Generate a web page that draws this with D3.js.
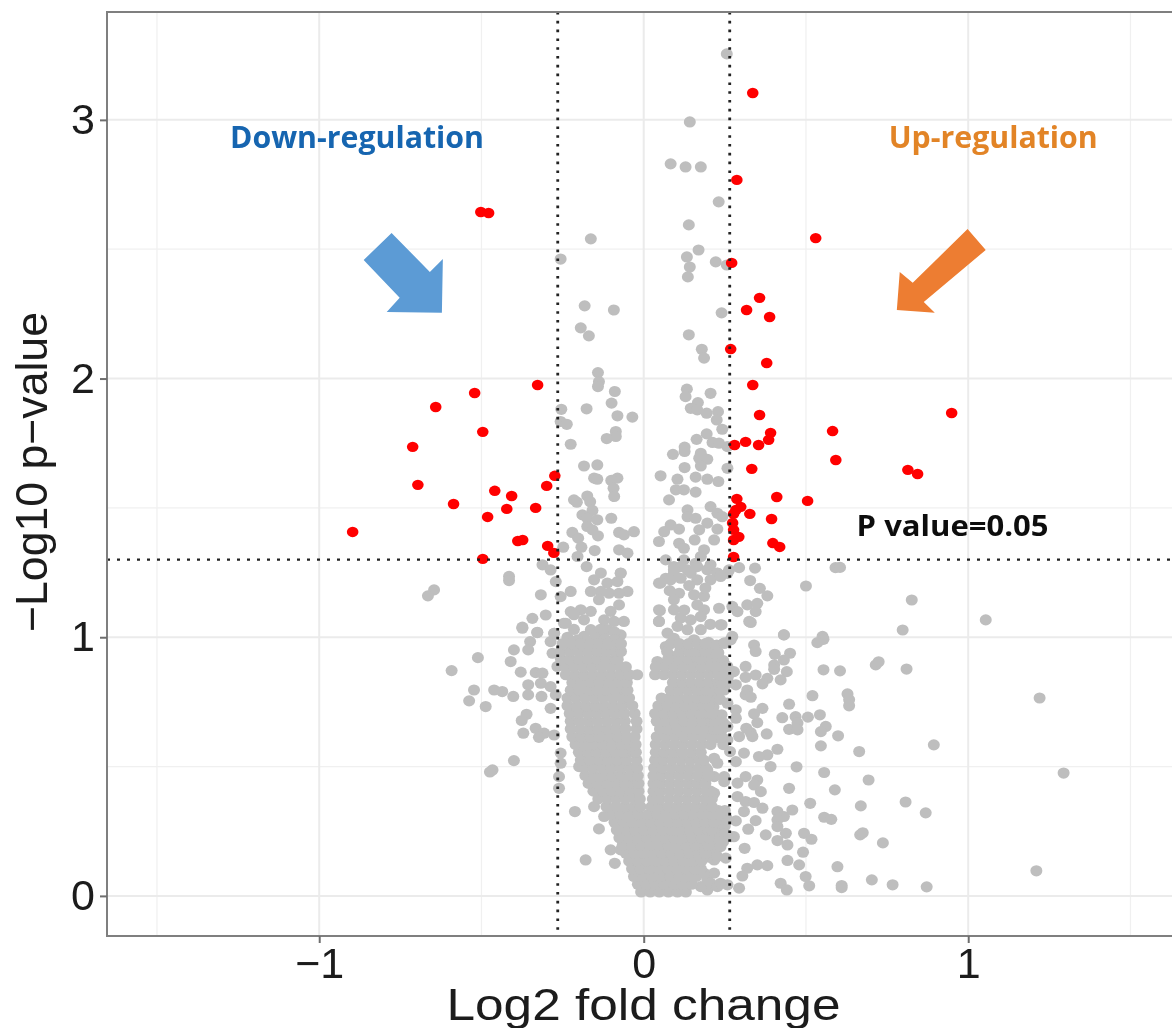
<!DOCTYPE html>
<html>
<head>
<meta charset="utf-8">
<script src="https://cdnjs.cloudflare.com/ajax/libs/d3/7.8.5/d3.min.js"></script>
<style>
  html, body { margin: 0; padding: 0; background: #fff; }
  svg { display: block; }
</style>
</head>
<body>
<div id="chart"></div>
<script>
// significant points, [log2fc, -log10p]
const redPoints = [
  [.336,3.104],[.287,2.768],[.53,2.543],[.271,2.447],[.357,2.312],[.317,2.265],[.388,2.238],[.268,2.114],
  [.379,2.06],[.336,1.975],[.357,1.859],[.949,1.867],[.391,1.79],[.385,1.763],[.354,1.743],[.314,1.755],
  [.28,1.743],[.582,1.797],[.592,1.685],[.333,1.651],[.814,1.647],[.844,1.631],[.41,1.542],[.505,1.527],
  [.287,1.535],[.299,1.504],[.284,1.492],[.277,1.477],[.327,1.477],[.394,1.457],[.274,1.442],[.277,1.415],
  [.293,1.388],[.277,1.376],[.398,1.364],[.419,1.349],[.277,1.31],
  [-.502,2.644],[-.478,2.64],[-.327,1.975],[-.521,1.944],[-.641,1.89],[-.496,1.794],[-.712,1.736],[-.696,1.589],
  [-.274,1.624],[-.299,1.585],[-.459,1.566],[-.407,1.546],[-.586,1.515],[-.422,1.496],[-.333,1.5],[-.481,1.465],
  [-.897,1.407],[-.388,1.372],[-.373,1.376],[-.296,1.353],[-.277,1.326],[-.496,1.303]
];

// grey points above the main mass
const grayTop = [
  [.256,3.255],[.142,2.992],[.083,2.83],[.129,2.818],[.176,2.818],[.231,2.683],[.139,2.594],[-.163,2.54],
  [.169,2.497],[.133,2.47],[-.256,2.462],[.222,2.451],[.256,2.439],[.142,2.431],[.136,2.393],[-.182,2.281],
  [-.092,2.265],[.24,2.254],[-.194,2.196],[-.169,2.165],[.139,2.169]
];

const grayLeftUpper = [
  [-.141,2.023],[-.138,1.988],[-.141,1.969],[-.089,1.95],[-.099,1.905],[-.176,1.883],[-.081,1.856],[-.035,1.851],
  [-.254,1.881],[-.256,1.834],[-.237,1.823],[-.086,1.795],[-.086,1.776],[-.114,1.768],[-.225,1.746],[-.184,1.662],
  [-.143,1.666],[-.153,1.615],[-.143,1.611],[-.081,1.615],[-.1,1.606],[-.093,1.576],[-.091,1.544],[-.215,1.531],
  [-.206,1.522],[-.174,1.546],[-.165,1.524],[-.158,1.49],[-.189,1.473],[-.174,1.46],[-.143,1.454],[-.1,1.46],
  [-.174,1.428],[-.158,1.415],[-.141,1.392],[-.076,1.405],[-.061,1.396],[-.03,1.408],[-.22,1.405],[-.202,1.383],
  [-.192,1.348],[-.248,1.348],[-.151,1.335],[-.076,1.338],[-.05,1.325],[-.204,1.312],[-.176,1.273],[-.312,1.28],
  [-.287,1.26],[-.071,1.247],[-.271,1.215],[-.415,1.235],[-.415,1.219],[-.646,1.183],[-.665,1.16],[-.317,1.164],
  [-.256,1.157],[-.225,1.177],[-.302,1.086],[-.343,1.073],[-.374,1.039],
  [-.328,1.018],[-.276,1.015],[-.246,1.054],[-.225,1.099]
];

// clusters just under the p=0.05 line, left lobe
const grayLeftFill = [
  [-.132,1.248],[-.153,1.222],[-.071,1.248],[-.112,1.209],[-.081,1.215],[-.132,1.177],[-.163,1.177],[-.107,1.17],
  [-.05,1.177],[-.076,1.17],[-.138,1.145],[-.076,1.125],[-.102,1.1],[-.194,1.106],[-.163,1.1],[-.215,1.087],
  [-.184,1.067],[-.122,1.067],[-.091,1.061],[-.061,1.061],[-.163,1.029],[-.112,1.029],[-.071,1.009],[-.184,1.003],
  [-.204,.99],[-.133,1.03],[-.09,1.02],[-.215,1.03],[-.235,1.0],[-.15,1.0],[-.12,.995],[-.09,.99]
];

const grayRightUpper = [
  [.179,2.113],[.186,2.079],[.133,1.959],[.129,1.93],[.206,1.943],[.167,1.907],[.145,1.885],[.165,1.879],
  [.194,1.866],[.229,1.872],[.225,1.84],[.242,1.804],[.194,1.786],[.163,1.765],[.212,1.753],[.232,1.75],
  [.258,1.737],[.126,1.735],[.126,1.718],[.09,1.707],[.176,1.711],[.171,1.692],[.196,1.688],[.176,1.662],
  [.126,1.656],[.258,1.653],[.052,1.624],[.104,1.611],[.16,1.619],[.196,1.611],[.23,1.602],[.099,1.57],
  [.124,1.57],[.16,1.561],[.078,1.531],[.135,1.492],[.135,1.466],[.206,1.505],[.227,1.479],[.16,1.46],
  [.242,1.466],[.196,1.441],[.083,1.434],[.109,1.418],[.063,1.408],[.171,1.415],[.227,1.418],[.047,1.37],
  [.109,1.363],[.157,1.376],[.217,1.376],[.124,1.344],[.186,1.338],[.176,1.312],[.068,1.299],[.124,1.299],
  [.16,1.286],[.093,1.273],[.206,1.28],[.294,1.269],[.343,1.267],[.263,1.26],[.135,1.26],[.093,1.247],
  [.227,1.247],[.258,1.247],[.068,1.228],[.047,1.209],[.328,1.219],
  [.358,1.189],[.381,1.16],[.5,1.198],[.591,1.269],[.605,1.27],
  [.05,1.103],[.273,1.119],[.319,1.125],[.35,1.131],[.289,1.099],[.345,1.099],[.325,1.061],[.047,1.061],[.432,1.009],
  [.551,1.003],[.273,1.003]
];

// clusters just under the p=0.05 line, right lobe
const grayRightFill = [
  [.052,1.209],[.083,1.222],[.114,1.228],[.145,1.248],[.196,1.261],[.227,1.248],[.165,1.222],[.206,1.222],
  [.237,1.235],[.109,1.17],[.093,1.145],[.155,1.164],[.186,1.158],[.093,1.106],[.165,1.125],[.186,1.106],
  [.114,1.074],[.145,1.067],[.176,1.08],[.104,1.042],[.073,1.016],[.135,1.029],[.176,1.029],[.093,.996],
  [.155,.99],[.068,.964],[.114,.958],[.176,.964],[.093,.925],[.145,.925],[.206,.919],[.042,.906],
  [.047,1.106],[.047,1.061],[.232,1.112],[.237,1.048],[.248,.977],[.165,1.273],[.114,1.273],[.093,1.261],
  [.14,1.2],[.19,1.19],[.08,1.18],[.125,1.105],[.205,1.05],[.2,.98],[.225,.95]
];

// right edge of the right lobe, up against the threshold line
const grayRightEdge = [
  [.23,.33],[.25,.33],[.235,.3],[.255,.3],[.225,.27],[.25,.27],[.225,.24],[.25,.24],
  [.22,.21],[.245,.21],[.2,.18],[.225,.18],[.2,.15],[.225,.7],[.24,.7],[.23,.67],
  [.245,.67],[.24,.64],[.22,.64],[.22,.61],[.215,.73],[.21,.76],[.235,.76],[.205,.79],
  [.255,.82],[.26,.85],[.235,.88],[.25,.88],[.2,.91],[.225,.91],[.245,.91],[.205,.94],
  [.23,.94],[.21,.97],[.225,.97]
];

// loose points on the flanks below y=1
const grayLeftFlank = [
  [-.592,.871],[-.511,.921],[-.41,.906],[-.374,1.035],[-.328,1.019],[-.35,.983],[-.4,.951],[-.356,.951],
  [-.379,.865],[-.333,.863],[-.312,.861],[-.356,.816],[-.317,.822],[-.287,.809],[-.523,.796],[-.461,.796],
  [-.436,.79],[-.402,.771],[-.538,.754],[-.487,.732],[-.356,.777],[-.315,.771],[-.271,.777],[-.287,.725],
  [-.361,.702],[-.376,.678],[-.333,.648],[-.307,.629],[-.323,.613],[-.371,.629],[-.276,.622],[-.281,.938],
  [-.287,.983],[-.276,1.015],[-.266,.887],[-.24,1.054],[-.4,.523],[-.466,.487],[-.474,.479],[-.256,.552],
  [-.256,.513],[-.261,.461],[-.261,.416],[-.199,.5],[-.212,.326],[-.138,.259],[-.102,.178],[-.179,.139],
  [-.089,.126],[-.153,.345],[-.122,.307],[-.071,.178]
];

const grayRightFlank = [
  [.432,1.009],[.554,.992],[.535,.979],[.33,1.057],[.24,1.048],[.34,.97],[.345,.945],[.404,.934],
  [.451,.938],[.432,.912],[.402,.893],[.402,.876],[.314,.887],[.278,.867],[.441,.867],[.554,.874],
  [.605,.87],[.422,.835],[.345,.854],[.314,.845],[.381,.841],[.366,.82],[.284,.816],[.319,.796],
  [.314,.777],[.33,.768],[.52,.774],[.448,.741],[.628,.781],[.633,.758],[.633,.735],[.366,.725],
  [.34,.704],[.284,.719],[.543,.7],[.506,.691],[.468,.693],[.427,.689],[.474,.668],[.35,.67],
  [.284,.687],[.448,.644],[.474,.642],[.561,.655],[.546,.635],[.316,.648],[.33,.631],[.335,.616],
  [.294,.616],[.379,.626],[.599,.619],[.546,.58],[.412,.567],[.381,.545],[.355,.539],[.309,.552],
  [.266,.558],[.284,.519],[.217,.532],[.391,.5],[.471,.499],[.664,.558],[.556,.477],[.314,.461],
  [.35,.448],[.34,.429],[.289,.436],[.248,.461],[.248,.442],[.361,.403],[.448,.416],[.589,.41],
  [.289,.384],[.314,.365],[.34,.361],[.309,.326],[.366,.339],[.513,.358],[.458,.332],[.412,.326],
  [.432,.307],[.556,.304],[.578,.296],[.669,.348],[.412,.294],[.412,.268],[.345,.291],[.284,.29],
  [.322,.258],[.438,.242],[.376,.236],[.494,.242],[.517,.219],[.667,.236],[.412,.214],[.443,.197],
  [.278,.229],[.491,.169],[.311,.184],[.443,.137],[.479,.12],[.381,.117],[.35,.12],[.319,.107],
  [.304,.077],[.597,.113],[.499,.075],[.422,.049],[.441,.023],[.51,.039],[.61,.04],[.61,.032],
  [.294,.03],[.258,.043],[.196,.023],[.217,.088],[.217,.139],[.227,.152],[.253,.146],[.268,.229],
  [.237,.191],[.258,.294],[.237,.32],[.217,.397],[.196,.487],[.217,.461],[.227,.513],[.258,.603],
  [.258,.655],[.258,.745],[.248,.796],[.258,.835],[.227,.938],[.248,.977],[.268,.99],[.258,.887],
  [.176,.036],[.196,.062],[.186,.088],[.206,.049],[.227,.036],[.237,.049]
];

const grayFarRight = [
  [1.22,.765],[1.054,1.067],[1.294,.475],[1.21,.097],[.894,.584],[.826,1.144],[.798,1.028],[.81,.877],
  [.715,.893],[.724,.905],[.807,.363],[.869,.321],[.767,.043],[.703,.062],[.872,.035],[.737,.205],
  [.693,.448],[.675,.244]
];

// the dense V, read row by row: [-log10p, log2fc values]
const grayMassRows = [
  [.015,[-.008,.02,.048,.076,.104,.13]],
  [.045,[-.018,.008,.036,.064,.092,.12,.148]],
  [.075,[-.03,-.002,.026,.054,.082,.11,.138,.162]],
  [.105,[-.036,-.01,.018,.046,.074,.102,.13,.158,.176]],
  [.135,[-.045,-.018,.01,.038,.066,.094,.122,.15,.178]],
  [.165,[-.055,-.028,0,.028,.056,.084,.112,.14,.168,.19]],
  [.195,[-.065,-.036,-.008,.02,.048,.076,.104,.132,.16,.188,.2]],
  [.225,[-.075,-.046,-.018,.01,.038,.066,.094,.122,.15,.178,.2]],
  [.255,[-.083,-.054,-.026,.002,.03,.058,.086,.114,.142,.17,.198,.21]],
  [.285,[-.09,-.062,-.034,-.006,.022,.05,.078,.106,.134,.162,.19,.218]],
  [.315,[-.1,-.072,-.044,-.016,.014,.042,.07,.098,.126,.154,.182,.21,.225]],
  [.345,[-.115,-.086,-.058,-.03,-.01,.024,.048,.076,.104,.132,.16,.188,.21]],
  [.375,[-.14,-.112,-.084,-.056,-.028,-.012,.028,.05,.078,.106,.134,.162,.19,.21]],
  [.405,[-.155,-.126,-.098,-.07,-.042,-.016,.03,.052,.08,.108,.136,.164,.192,.206]],
  [.435,[-.17,-.142,-.114,-.086,-.058,-.03,-.016,.03,.054,.082,.11,.138,.166,.19]],
  [.465,[-.18,-.152,-.124,-.096,-.068,-.04,-.018,.03,.054,.082,.11,.138,.166,.194,.2]],
  [.495,[-.185,-.156,-.128,-.1,-.072,-.044,-.02,.032,.058,.086,.114,.142,.17,.192]],
  [.525,[-.194,-.166,-.138,-.11,-.082,-.054,-.022,.035,.06,.088,.116,.144,.172,.185]],
  [.555,[-.2,-.172,-.144,-.116,-.088,-.06,-.032,-.024,.037,.064,.092,.12,.148,.176]],
  [.585,[-.21,-.182,-.154,-.126,-.098,-.07,-.042,-.025,.037,.066,.094,.122,.15,.178,.206,.245]],
  [.615,[-.22,-.192,-.164,-.136,-.108,-.08,-.052,-.028,.04,.068,.096,.124,.152,.18,.208,.24]],
  [.645,[-.225,-.196,-.168,-.14,-.112,-.084,-.056,-.022,.05,.076,.104,.132,.16,.188,.216,.23]],
  [.675,[-.225,-.198,-.17,-.142,-.114,-.086,-.058,-.022,.04,.068,.096,.124,.152,.18,.208,.22]],
  [.705,[-.228,-.2,-.172,-.144,-.116,-.088,-.06,-.028,.035,.062,.09,.118,.146,.174,.202,.21]],
  [.735,[-.235,-.206,-.178,-.15,-.122,-.094,-.066,-.035,.045,.072,.1,.128,.156,.184,.2]],
  [.765,[-.235,-.208,-.18,-.152,-.124,-.096,-.068,-.045,.055,.08,.108,.136,.164,.19]],
  [.795,[-.225,-.198,-.17,-.142,-.114,-.086,-.058,-.05,.083,.11,.138,.166,.194,.222,.235]],
  [.825,[-.22,-.192,-.164,-.136,-.108,-.08,-.052,.09,.118,.146,.174,.202,.23,.24]],
  [.855,[-.24,-.212,-.184,-.156,-.128,-.1,-.072,-.044,-.02,.035,.062,.09,.118,.146,.174,.202,.23,.24]],
  [.885,[-.24,-.214,-.186,-.158,-.13,-.102,-.074,-.055,.037,.066,.094,.122,.15,.178,.206,.22]],
  [.915,[-.255,-.228,-.2,-.172,-.144,-.116,-.088,-.08,.075,.11,.138,.166,.175]],
  [.945,[-.255,-.226,-.198,-.17,-.142,-.114,-.086,-.07,.072,.112,.14,.168,.19]],
  [.975,[-.25,-.222,-.194,-.166,-.138,-.11,-.082,-.07,.083,.11,.138,.166,.19]]
];

const grayMass = grayMassRows.flatMap(r => r[1].map(x => [x, r[0]]));
const grayPoints = [].concat(grayTop, grayLeftUpper, grayLeftFill, grayRightUpper, grayRightFill, grayRightEdge,
  grayLeftFlank, grayRightFlank, grayFarRight, grayMass);

const xTicks = [-1, 0, 1];
const yTicks = [0, 1, 2, 3];
const xMinorTicks = [-1.5, -.5, .5, 1.5];
const yMinorTicks = [.5, 1.5, 2.5];
const xThresholds = [-.265, .265];
const yThreshold = 1.3;

// arrows, in axis units
const downArrow = [[-.777,2.563],[-.659,2.412],[-.619,2.462],[-.622,2.254],[-.792,2.257],[-.752,2.312],[-.863,2.458]];
const upArrow = [[.998,2.578],[1.054,2.497],[.863,2.296],[.897,2.254],[.78,2.265],[.789,2.412],[.829,2.37]];

const width = 1172, height = 1028;
const margin = {top: 12, right: 0, bottom: 92, left: 107};

const svg = d3.select('#chart').append('svg').attr('width', width).attr('height', height);

// the reference is a soft, resampled image
svg.append('defs').append('filter').attr('id', 'soft')
  .attr('x', '-2%').attr('y', '-2%').attr('width', '104%').attr('height', '104%')
  .append('feGaussianBlur').attr('stdDeviation', .6);

const x = d3.scaleLinear().domain([-1.654, 1.628]).range([margin.left, width]);
const y = d3.scaleLinear().domain([-.155, 3.417]).range([height - margin.bottom, margin.top]);

const root = svg.append('g').attr('filter', 'url(#soft)');

// grid
const grid = root.append('g');
grid.selectAll('.vminor').data(xMinorTicks).enter().append('line')
  .attr('x1', d => x(d)).attr('x2', d => x(d)).attr('y1', y.range()[1]).attr('y2', y.range()[0])
  .attr('stroke', '#f0f0f0').attr('stroke-width', 1.2);
grid.selectAll('.hminor').data(yMinorTicks).enter().append('line')
  .attr('y1', d => y(d)).attr('y2', d => y(d)).attr('x1', x.range()[0]).attr('x2', x.range()[1])
  .attr('stroke', '#f0f0f0').attr('stroke-width', 1.2);
grid.selectAll('.vmajor').data(xTicks).enter().append('line')
  .attr('x1', d => x(d)).attr('x2', d => x(d)).attr('y1', y.range()[1]).attr('y2', y.range()[0])
  .attr('stroke', '#ebebeb').attr('stroke-width', 2);
grid.selectAll('.hmajor').data(yTicks).enter().append('line')
  .attr('y1', d => y(d)).attr('y2', d => y(d)).attr('x1', x.range()[0]).attr('x2', x.range()[1])
  .attr('stroke', '#ebebeb').attr('stroke-width', 2);

// points
root.append('g').selectAll('ellipse').data(grayPoints).enter().append('ellipse')
  .attr('cx', d => x(d[0])).attr('cy', d => y(d[1])).attr('rx', 6).attr('ry', 5.6)
  .attr('fill', '#bebebe');
root.append('g').selectAll('ellipse').data(redPoints).enter().append('ellipse')
  .attr('cx', d => x(d[0])).attr('cy', d => y(d[1])).attr('rx', 5.8).attr('ry', 5.2)
  .attr('fill', '#ff0000');

// thresholds
root.append('g').selectAll('line').data(xThresholds).enter().append('line')
  .attr('x1', d => x(d)).attr('x2', d => x(d)).attr('y1', y.range()[1]).attr('y2', y.range()[0])
  .attr('stroke', '#222').attr('stroke-width', 2.8).attr('stroke-dasharray', '2.6 6.2');
root.append('line')
  .attr('x1', x.range()[0]).attr('x2', x.range()[1]).attr('y1', y(yThreshold)).attr('y2', y(yThreshold))
  .attr('stroke', '#222').attr('stroke-width', 2.4).attr('stroke-dasharray', '3 7');

// arrows
const arrowLine = d3.line().x(d => x(d[0])).y(d => y(d[1])).curve(d3.curveLinearClosed);
root.append('path').attr('d', arrowLine(downArrow)).attr('fill', '#5b9bd5');
root.append('path').attr('d', arrowLine(upArrow)).attr('fill', '#ed7d31');

// panel border, no right edge since the picture is cut there
root.append('path')
  .attr('d', d3.line()([[width, y.range()[1]], [x.range()[0], y.range()[1]], [x.range()[0], y.range()[0]], [width, y.range()[0]]]))
  .attr('fill', 'none').attr('stroke', '#7f7f7f').attr('stroke-width', 2);

// axes
const xAxis = d3.axisBottom(x).tickValues(xTicks).tickFormat(d3.format('d')).tickSize(7).tickPadding(4);
const yAxis = d3.axisLeft(y).tickValues(yTicks).tickFormat(d3.format('d')).tickSize(7).tickPadding(5);
const gx = root.append('g').attr('transform', 'translate(0,' + y.range()[0] + ')').call(xAxis);
const gy = root.append('g').attr('transform', 'translate(' + x.range()[0] + ',0)').call(yAxis);
[gx, gy].forEach(g => {
  g.select('.domain').remove();
  g.selectAll('line').attr('stroke', '#6e6e6e').attr('stroke-width', 2);
  g.selectAll('text').attr('fill', '#1a1a1a').style('font-family', '"Liberation Sans", sans-serif').style('font-size', '43px');
});

// titles
root.append('text').attr('x', 643.5).attr('y', 1020).attr('text-anchor', 'middle')
  .attr('textLength', 394).attr('lengthAdjust', 'spacingAndGlyphs')
  .style('font-family', '"Liberation Sans", sans-serif').style('font-size', '44px').attr('fill', '#1a1a1a')
  .text('Log2 fold change');
root.append('text').attr('transform', 'translate(47,472) rotate(-90)').attr('text-anchor', 'middle')
  .attr('textLength', 320).attr('lengthAdjust', 'spacingAndGlyphs')
  .style('font-family', '"Liberation Sans", sans-serif').style('font-size', '44px').attr('fill', '#1a1a1a')
  .text('\u2212Log10 p\u2212value');

// annotations
const note = (tx, ty, len, size, color, label) => root.append('text')
  .attr('x', x(tx)).attr('y', y(ty)).attr('textLength', len).attr('lengthAdjust', 'spacingAndGlyphs')
  .style('font-family', '"Open Sans", sans-serif').style('font-weight', 700).style('font-size', size + 'px')
  .attr('fill', color).text(label);
note(-1.275, 2.891, 254, 30, '#1565b0', 'Down-regulation');
note(.755, 2.891, 209, 30, '#e28427', 'Up-regulation');
note(.656, 1.392, 192, 28, '#111', 'P value=0.05');
</script>
</body>
</html>
